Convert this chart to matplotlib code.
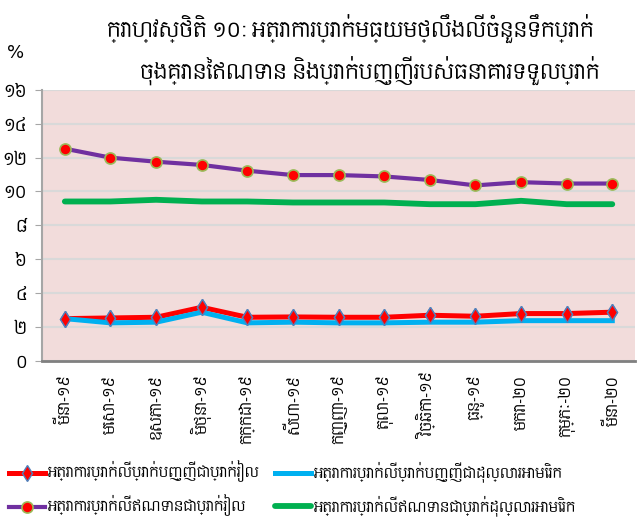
import matplotlib
matplotlib.use("Agg")
import matplotlib.pyplot as plt
from matplotlib import font_manager

# Khmer font (matplotlib has no shaping, but glyphs are there)
KH_PATH = "/usr/share/fonts/truetype/google-fonts/Content-Regular.ttf"
font_manager.fontManager.addfont(KH_PATH)
KH = font_manager.FontProperties(fname=KH_PATH).get_name()
plt.rcParams['font.family'] = [KH, 'DejaVu Sans']

months = ["មីនា-១៩", "មេសា-១៩", "ឧសភា-១៩", "មិថុនា-១៩", "កក្កដា-១៩",
          "សីហា-១៩", "កញ្ញា-១៩", "តុលា-១៩", "វិច្ឆិកា-១៩", "ធ្នូ-១៩",
          "មករា-២០", "កុម្ភៈ-២០", "មីនា-២០"]

dep_khr = [2.49, 2.53, 2.57, 3.16, 2.57, 2.59, 2.57, 2.57, 2.69, 2.63, 2.79, 2.79, 2.87]
loan_khr = [12.53, 12.0, 11.76, 11.57, 11.23, 10.97, 10.97, 10.89, 10.68, 10.36, 10.55, 10.47, 10.47]
dep_usd = [2.49, 2.24, 2.28, 2.87, 2.24, 2.28, 2.24, 2.24, 2.28, 2.28, 2.37, 2.37, 2.37]
loan_usd = [9.41, 9.41, 9.51, 9.41, 9.41, 9.35, 9.35, 9.35, 9.25, 9.25, 9.45, 9.25, 9.25]

yticks = [0, 2, 4, 6, 8, 10, 12, 14, 16]
ytick_labels = ["០", "២", "៤", "៦", "៨", "១០", "១២", "១៤", "១៦"]

title1 = "ក្រាហ្វស្ថិតិ ១០: អត្រាការប្រាក់មធ្យមថ្លឹងលើចំនួនទឹកប្រាក់"
title2 = "ចុងគ្រានៃឥណទាន និងប្រាក់បញ្ញើរបស់ធនាគារទទួលប្រាក់"
names = ["អត្រាការប្រាក់លើប្រាក់បញ្ញើជាប្រាក់រៀល",
         "អត្រាការប្រាក់លើឥណទានជាប្រាក់រៀល",
         "អត្រាការប្រាក់លើប្រាក់បញ្ញើជាដុល្លារអាមេរិក",
         "អត្រាការប្រាក់លើឥណទានជាប្រាក់ដុល្លារអាមេរិក"]

fig = plt.figure(figsize=(6.37, 5.29), dpi=100)
ax = fig.add_axes([0.066, 0.318, 0.931, 0.512])
ax.set_facecolor('#F2DCDB')

x = range(len(months))
h1, = ax.plot(x, dep_khr, color='#FF0000', lw=3.6, marker='d', ms=8,
              mfc='#FF0000', mec='#4F81BD', mew=1, zorder=3)
h3, = ax.plot(x, dep_usd, color='#00B0F0', lw=3.6, zorder=4)
ax.plot(x, dep_khr, ls='none', marker='d', ms=8, mfc='#FF0000',
        mec='#4F81BD', mew=1, zorder=5)
h4, = ax.plot(x, loan_usd, color='#00B050', lw=4.2, zorder=3,
              solid_capstyle='round')
h2, = ax.plot(x, loan_khr, color='#7030A0', lw=3, marker='o', ms=8,
              mfc='#FF0000', mec='#9BBB59', mew=1.2, zorder=3)

ax.set_xlim(-0.5, len(months) - 0.5)
ax.set_ylim(0, 16)
ax.set_yticks(yticks)
ax.set_yticklabels(ytick_labels, fontsize=12)
ax.set_xticks(list(x))
ax.set_xticklabels(months, rotation=90, fontsize=10.5)
ax.yaxis.grid(True, color='#D9D9D9', lw=1.5)
ax.set_axisbelow(True)
ax.tick_params(axis='y', length=5, color='#A6A6A6', pad=6)
ax.tick_params(axis='x', length=0, pad=10)
for s in ['top', 'right']:
    ax.spines[s].set_visible(False)
ax.spines['left'].set_color('#A6A6A6')
ax.spines['left'].set_linewidth(1.5)
ax.spines['bottom'].set_color('#808080')
ax.spines['bottom'].set_linewidth(2)

fig.text(0.55, 0.945, title1, ha='center', va='center', fontsize=14.5)
fig.text(0.58, 0.865, title2, ha='center', va='center', fontsize=14.5)
fig.text(0.024, 0.9, "%", ha='center', va='center', fontsize=13,
         family='DejaVu Sans')

fig.legend([h1, h2, h3, h4], names, ncol=2, loc='lower left',
           bbox_to_anchor=(-0.005, 0.0), frameon=False, fontsize=10,
           handlelength=2.6, handletextpad=0.1, columnspacing=1.2,
           labelspacing=0.9)

fig.savefig("out.png")
